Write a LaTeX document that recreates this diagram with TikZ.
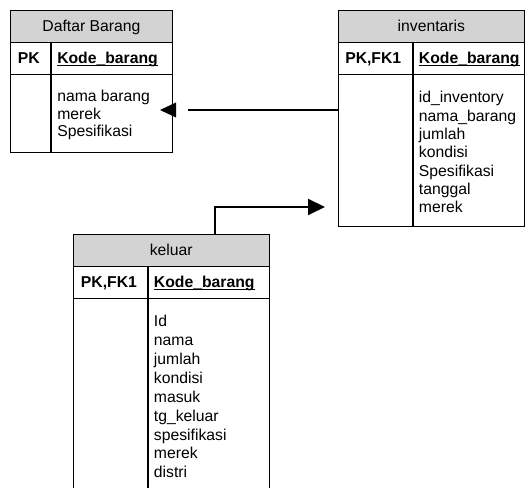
\documentclass[tikz,border=0pt]{standalone}
\usepackage{fontspec}
\setmainfont{Liberation Sans}
\usetikzlibrary{fit,arrows.meta}
\definecolor{hdrgray}{RGB}{211,211,211}
\newcommand\ulbox[1]{\setbox0=\hbox{#1}\rlap{\rule[-2pt]{\wd0}{1pt}}\box0}
\begin{document}
\begin{tikzpicture}[x=0.75pt,y=-0.75pt,
  box/.style={draw=black,line width=0.75pt,inner sep=0pt},
  thinl/.style={line width=0.75pt},
  divl/.style={line width=1.2pt},
  conn/.style={line width=1.5pt},
  lbl/.style={font=\fontsize{11.8}{14}\selectfont,inner sep=0pt,anchor=base west},
  hlbl/.style={font=\fontsize{11.8}{14}\selectfont,inner sep=0pt,anchor=base},
  bl/.style={font=\fontsize{11.8}{14}\selectfont\bfseries,inner sep=0pt,anchor=base west}]
\useasboundingbox (0,0) rectangle (526,488);
\clip (0,0) rectangle (526,488);

% ---------- Daftar Barang ----------
\coordinate (db1) at (10.3,10.3);
\coordinate (db2) at (172.5,153);
\fill[hdrgray] (10.3,10.3) rectangle (172.5,42.3);
\node[box,fit=(db1)(db2)] (db) {};
\draw[thinl] (10.3,42.3) -- (172.5,42.3) (10.3,75) -- (172.5,75);
\draw[divl] (51,42.3) -- (51,153);
\node[hlbl] (dbt) at (91.4,31.5) {Daftar Barang};
\node[bl] (dbpk) at (17.7,63.3) {PK};
\node[bl] (dbk) at (57,63.3) {\ulbox{Kode\_barang}};
\foreach \t [count=\i from 0] in {nama barang,merek,Spesifikasi}
  \node[lbl] (db-\i) at (57,101.7+17.5*\i) {\t};

% ---------- inventaris ----------
\coordinate (inv1) at (338.3,10.3);
\coordinate (inv2) at (524.5,227);
\fill[hdrgray] (338.3,10.3) rectangle (524.5,42.3);
\node[box,fit=(inv1)(inv2)] (inv) {};
\draw[thinl] (338.3,42.3) -- (524.5,42.3) (338.3,75) -- (524.5,75);
\draw[divl] (412.7,42.3) -- (412.7,227);
\node[hlbl] (invt) at (431.4,31.5) {inventaris};
\node[bl] (invpk) at (345,63.3) {PK,FK1};
\node[bl] (invk) at (418.7,63.3) {\ulbox{Kode\_barang}};
\foreach \t [count=\i from 0] in {id\_inventory,nama\_barang,jumlah,kondisi,Spesifikasi,tanggal,merek}
  \node[lbl] (inv-\i) at (418.7,103+18.3*\i) {\t};

% ---------- keluar ----------
\coordinate (kel1) at (73.3,235);
\coordinate (kel2) at (269,500);
\fill[hdrgray] (73.3,235) rectangle (269,266.7);
\node[box,fit=(kel1)(kel2)] (kel) {};
\draw[thinl] (73.3,266.7) -- (269,266.7) (73.3,299) -- (269,299);
\draw[divl] (147.7,266.7) -- (147.7,500);
\node[hlbl] (kelt) at (171.2,255.5) {keluar};
\node[bl] (kelpk) at (80.7,287.3) {PK,FK1};
\node[bl] (kelk) at (153.7,287.3) {\ulbox{Kode\_barang}};
\foreach \t [count=\i from 0] in {Id,nama,jumlah,kondisi,masuk,tg\_keluar,spesifikasi,merek,distri}
  \node[lbl] (kel-\i) at (153.7,326.7+18.9*\i) {\t};

% ---------- connectors ----------
\coordinate (a1) at (188,110);
\coordinate (tA) at (160,110);
\draw[conn] (inv.west |- 0,110) -- (a1);
\fill (tA) -- ++(16,-7.5) -- ++(0,15) -- cycle;

\coordinate (b1) at (325,207);
\draw[conn,-{Triangle[length=12.75pt,width=12pt]}] (kel.north -| 215,0) |- (b1);
\end{tikzpicture}
\end{document}
